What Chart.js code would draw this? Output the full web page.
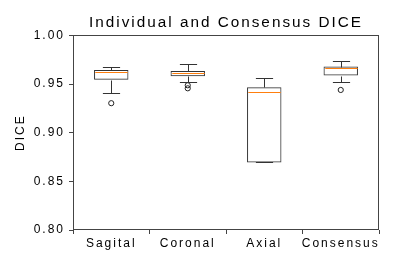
<!DOCTYPE html>
<html>
<head>
<meta charset="utf-8">
<script src="https://cdn.jsdelivr.net/npm/chart.js@4.4.0/dist/chart.umd.min.js"></script>
<style>
  html, body { margin: 0; padding: 0; background: #fff; }
</style>
</head>
<body>
<canvas id="chartBox" width="399" height="266"></canvas>
<script>
// Box plot values
var categories = ['Sagital', 'Coronal', 'Axial', 'Consensus'];
var whiskerLow = [0.9405, 0.9518, 0.8694, 0.9525];
var q1 = [0.9545, 0.9580, 0.8694, 0.9587];
var median = [0.9624, 0.9617, 0.9415, 0.9662];
var q3 = [0.9644, 0.9634, 0.9467, 0.9679];
var whiskerHigh = [0.9679, 0.9706, 0.9566, 0.9737];
var outliers = [[0.9303], [0.9487, 0.9456], [], [0.9439]];
var yTicks = [0.80, 0.85, 0.90, 0.95, 1.00];

var lineColor = '#333';

// boxes as floating bars
var boxData = categories.map(function (c, i) { return [q1[i], q3[i]]; });

// fliers as points
var flierData = [];
outliers.forEach(function (list, i) {
    list.forEach(function (v) { flierData.push({ x: categories[i], y: v }); });
});

// matplotlib-ish wide tracking on all text
function spacing(chart) { chart.ctx.letterSpacing = '2px'; }

var boxPlugin = {
    id: 'boxPlugin',
    beforeInit: spacing,
    beforeUpdate: spacing,
    beforeLayout: spacing,
    beforeDraw: spacing,
    afterDatasetsDraw: function (chart) {
        var ctx = chart.ctx;
        var x = chart.scales.x, y = chart.scales.y;
        var bars = chart.getDatasetMeta(0).data;
        ctx.save();
        ctx.lineWidth = 1;
        categories.forEach(function (c, i) {
            var cx = Math.round(x.getPixelForValue(i)) + 0.5;
            var half = bars[i].width / 2;
            var cap = half / 2;
            var yHi = Math.round(y.getPixelForValue(whiskerHigh[i])) + 0.5;
            var yQ3 = Math.round(y.getPixelForValue(q3[i])) + 0.5;
            var yQ1 = Math.round(y.getPixelForValue(q1[i])) + 0.5;
            var yLo = Math.round(y.getPixelForValue(whiskerLow[i])) + 0.5;
            ctx.strokeStyle = lineColor;
            ctx.beginPath();
            ctx.moveTo(cx, yQ3); ctx.lineTo(cx, yHi);
            ctx.moveTo(cx - cap, yHi); ctx.lineTo(cx + cap, yHi);
            ctx.moveTo(cx, yQ1); ctx.lineTo(cx, yLo);
            ctx.moveTo(cx - cap, yLo); ctx.lineTo(cx + cap, yLo);
            ctx.stroke();
            // median
            var yMed = Math.round(y.getPixelForValue(median[i])) + 0.5;
            ctx.strokeStyle = '#ff7f0e';
            ctx.beginPath();
            ctx.moveTo(cx - half + 1, yMed); ctx.lineTo(cx + half - 1, yMed);
            ctx.stroke();
        });
        // frame round the plot
        var a = chart.chartArea;
        ctx.strokeStyle = '#444';
        ctx.strokeRect(Math.round(a.left) + 0.5, Math.round(a.top) + 0.5,
            Math.round(a.right - a.left) - 1, Math.round(a.bottom - a.top) - 1);
        ctx.restore();
    }
};

var ctx = document.getElementById('chartBox').getContext('2d');
var myChart = new Chart(ctx, {
    type: 'bar',
    data: {
        labels: categories,
        datasets: [{
            data: boxData,
            backgroundColor: 'rgba(255,255,255,0)',
            borderColor: lineColor,
            borderWidth: 1,
            borderSkipped: false,
            barPercentage: 0.45,
            categoryPercentage: 1.0
        }, {
            type: 'line',
            data: flierData,
            showLine: false,
            pointRadius: 2.6,
            pointBorderWidth: 1,
            pointBorderColor: '#222',
            pointBackgroundColor: 'rgba(255,255,255,0)'
        }]
    },
    options: {
        responsive: false,
        animation: false,
        devicePixelRatio: 1,
        layout: { padding: { left: 0, right: 20, top: 0, bottom: 0 } },
        plugins: {
            legend: { display: false },
            tooltip: { enabled: false },
            title: {
                display: true,
                fullSize: false, // centre over the plot, not the canvas
                text: 'Individual and Consensus DICE',
                color: '#000',
                font: { family: 'Liberation Sans', size: 15.3, weight: 'normal' },
                padding: { top: 14, bottom: 3 }
            }
        },
        scales: {
            x: {
                offset: true,
                grid: { display: true, drawOnChartArea: false, tickLength: 4, color: '#444' },
                border: { display: false },
                ticks: {
                    color: '#000', padding: 2, maxRotation: 0, autoSkip: false,
                    font: { family: 'Liberation Sans', size: 12 }
                },
                afterFit: function (scale) { scale.height = 36; }
            },
            y: {
                min: 0.8,
                max: 1.0,
                afterBuildTicks: function (scale) {
                    scale.ticks = yTicks.map(function (v) { return { value: v }; });
                },
                grid: { display: true, drawOnChartArea: false, tickLength: 4, color: '#444' },
                border: { display: false },
                ticks: {
                    color: '#000', padding: 4,
                    font: { family: 'Liberation Sans', size: 12 },
                    callback: function (v) { return Number(v).toFixed(2); }
                },
                title: {
                    display: true, text: 'DICE', color: '#000',
                    font: { family: 'Liberation Sans', size: 12 },
                    padding: { top: 13, bottom: 0 }
                },
                afterFit: function (scale) { scale.width = 73; }
            }
        }
    },
    plugins: [boxPlugin]
});
</script>
</body>
</html>
